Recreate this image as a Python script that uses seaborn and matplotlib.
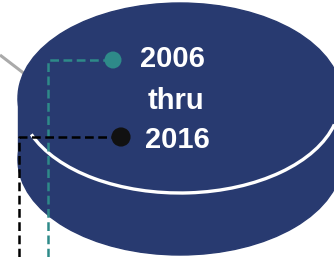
import numpy as np
import pandas as pd
import seaborn as sns
import matplotlib.pyplot as plt
from matplotlib.patches import Ellipse, Rectangle, Arc

sns.set_theme(style='white')
plt.rcParams['font.family'] = ['Liberation Sans', 'DejaVu Sans']

# puck (pixel space of the picture)
puck_cx, puck_cy = 180, 98
puck_w, puck_h = 324, 190
puck_depth = 62
navy = '#283a70'

# period labels
labels = ['2006', 'thru', '2016']
label_x = [172, 176, 177]
label_y = [67, 109, 148]

# markers and their leader lines
start_x = [48, 48, 113]
start_y = [257, 60, 60]
end_x = [19, 19, 121]
end_y = [257, 137, 137]

fig = plt.figure(figsize=(3.34, 2.57), dpi=100)
ax = fig.add_axes([0, 0, 1, 1])
ax.set_xlim(0, 334)
ax.set_ylim(257, 0)
ax.axis('off')

# grey connector behind the puck
ax.plot([0, 30], [55, 78], color='#aaaaaa', lw=2.2, zorder=1, solid_capstyle='butt')

ax.add_patch(Ellipse((puck_cx, puck_cy + puck_depth), puck_w, puck_h, color=navy, zorder=2))
ax.add_patch(Rectangle((puck_cx - puck_w / 2, puck_cy), puck_w, puck_depth, color=navy, zorder=2))
ax.add_patch(Ellipse((puck_cx, puck_cy), puck_w, puck_h, color=navy, zorder=2))
ax.add_patch(Arc((puck_cx, puck_cy + 2), puck_w - 4, puck_h - 4, theta1=9, theta2=167,
                 color='white', lw=2.4, zorder=3))

teal = pd.DataFrame({'x': start_x, 'y': start_y})
black = pd.DataFrame({'x': end_x, 'y': end_y})
sns.lineplot(data=teal, x='x', y='y', estimator=None, sort=False, ax=ax,
             color='#2e8a89', lw=1.8, zorder=4).lines[-1].set_dashes((3.5, 1.8))
sns.lineplot(data=black, x='x', y='y', estimator=None, sort=False, ax=ax,
             color='black', lw=1.8, zorder=4).lines[-1].set_dashes((3.5, 1.8))

sns.scatterplot(x=[start_x[-1]], y=[start_y[-1]], color='#2e8a89', s=150, ax=ax,
                edgecolor='none', zorder=5)
sns.scatterplot(x=[end_x[-1]], y=[end_y[-1]], color='#111111', s=190, ax=ax,
                edgecolor='none', zorder=5)

for t, x, y in zip(labels, label_x, label_y):
    ax.text(x, y, t, color='white', fontsize=21, fontweight='bold',
            ha='center', va='baseline', zorder=6)

ax.set_xlim(0, 334)
ax.set_ylim(257, 0)
fig.savefig('out.png', dpi=100)
